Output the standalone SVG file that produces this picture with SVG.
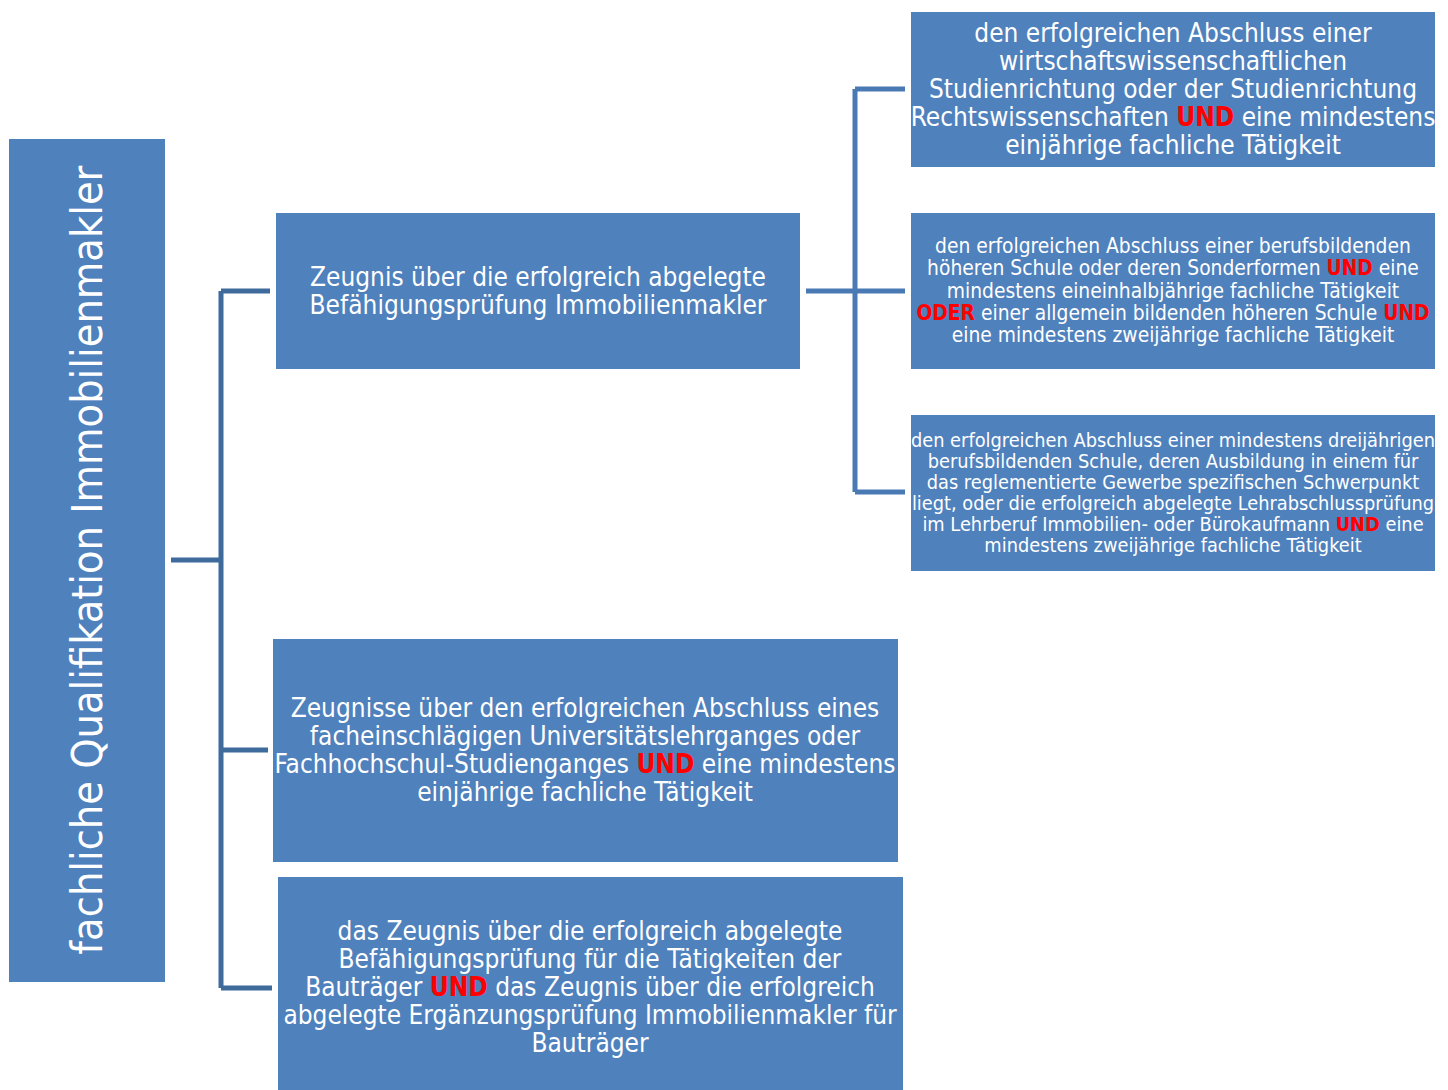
<svg xmlns="http://www.w3.org/2000/svg" width="1448" height="1090" viewBox="0 0 1448 1090">
<style>
.box{fill:#4f81bd}
.t{font-family:"DejaVu Sans Condensed","DejaVu Sans",sans-serif;fill:#ffffff;text-anchor:middle}
.r{fill:#ff0000;font-weight:bold}
.c1{fill:none;stroke:#3f6a9c;stroke-width:5}
.c2{fill:none;stroke:#4a7ab4;stroke-width:5}
</style>
<rect width="1448" height="1090" fill="#ffffff"/>
<g id="connectors">
<path class="c1" d="M171 560H221M221 291V988M221 291H270M221 750H268M221 988H272"/>
<path class="c2" d="M806 291H905M855 89V492M855 89H905M855 492H905"/>
</g>
<g id="root">
<rect class="box" x="9" y="139" width="156" height="843"/>
<text class="t" font-size="42.8" transform="translate(102 560) rotate(-90)">fachliche Qualifikation Immobilienmakler</text>
</g>
<g id="nodeA">
<rect class="box" x="276" y="213" width="524" height="156"/>
<text class="t" font-size="26" x="538"><tspan x="538" y="286">Zeugnis über die erfolgreich abgelegte</tspan><tspan x="538" y="314">Befähigungsprüfung Immobilienmakler</tspan></text>
</g>
<g id="nodeB">
<rect class="box" x="273" y="639" width="625" height="223"/>
<text class="t" font-size="26" x="585"><tspan x="585" y="717">Zeugnisse über den erfolgreichen Abschluss eines</tspan><tspan x="585" y="745">facheinschlägigen Universitätslehrganges oder</tspan><tspan x="585" y="773">Fachhochschul-Studienganges <tspan class="r">UND</tspan> eine mindestens</tspan><tspan x="585" y="801">einjährige fachliche Tätigkeit</tspan></text>
</g>
<g id="nodeC">
<rect class="box" x="278" y="877" width="625" height="213"/>
<text class="t" font-size="26" x="590"><tspan x="590" y="940">das Zeugnis über die erfolgreich abgelegte</tspan><tspan x="590" y="968">Befähigungsprüfung für die Tätigkeiten der</tspan><tspan x="590" y="996">Bauträger <tspan class="r">UND</tspan> das Zeugnis über die erfolgreich</tspan><tspan x="590" y="1024">abgelegte Ergänzungsprüfung Immobilienmakler für</tspan><tspan x="590" y="1052">Bauträger</tspan></text>
</g>
<g id="nodeR1">
<rect class="box" x="911" y="12" width="524" height="155"/>
<text class="t" font-size="26" x="1173"><tspan x="1173" y="42">den erfolgreichen Abschluss einer</tspan><tspan x="1173" y="70">wirtschaftswissenschaftlichen</tspan><tspan x="1173" y="98">Studienrichtung oder der Studienrichtung</tspan><tspan x="1173" y="126">Rechtswissenschaften <tspan class="r">UND</tspan> eine mindestens</tspan><tspan x="1173" y="154">einjährige fachliche Tätigkeit</tspan></text>
</g>
<g id="nodeR2">
<rect class="box" x="911" y="213" width="524" height="156"/>
<text class="t" font-size="20.8" x="1173"><tspan x="1173" y="253">den erfolgreichen Abschluss einer berufsbildenden</tspan><tspan x="1173" y="275">höheren Schule oder deren Sonderformen <tspan class="r">UND</tspan> eine</tspan><tspan x="1173" y="298">mindestens eineinhalbjährige fachliche Tätigkeit</tspan><tspan x="1173" y="320"><tspan class="r">ODER</tspan> einer allgemein bildenden höheren Schule <tspan class="r">UND</tspan></tspan><tspan x="1173" y="342">eine mindestens zweijährige fachliche Tätigkeit</tspan></text>
</g>
<g id="nodeR3">
<rect class="box" x="911" y="415" width="524" height="156"/>
<text class="t" font-size="19.8" x="1173"><tspan x="1173" y="447">den erfolgreichen Abschluss einer mindestens dreijährigen</tspan><tspan x="1173" y="468">berufsbildenden Schule, deren Ausbildung in einem für</tspan><tspan x="1173" y="489">das reglementierte Gewerbe spezifischen Schwerpunkt</tspan><tspan x="1173" y="510">liegt, oder die erfolgreich abgelegte Lehrabschlussprüfung</tspan><tspan x="1173" y="531">im Lehrberuf Immobilien- oder Bürokaufmann <tspan class="r">UND</tspan> eine</tspan><tspan x="1173" y="552">mindestens zweijährige fachliche Tätigkeit</tspan></text>
</g>
</svg>
